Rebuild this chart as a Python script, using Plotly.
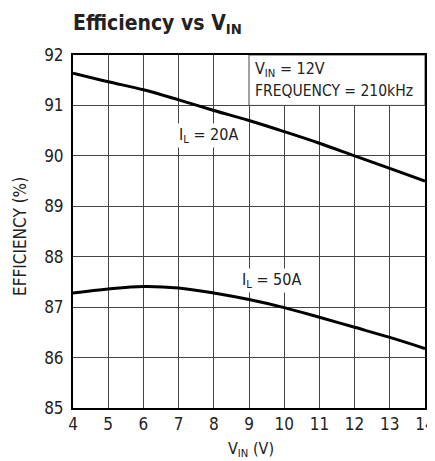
import plotly.graph_objects as go

vin = [4, 5, 6, 7, 8, 9, 10, 11, 12, 13, 14]
eff_20a = [91.64, 91.47, 91.31, 91.11, 90.90, 90.70, 90.48, 90.25, 90.00, 89.75, 89.50]
eff_50a = [87.28, 87.36, 87.41, 87.38, 87.28, 87.15, 86.99, 86.80, 86.60, 86.40, 86.18]
x_ticks = [4, 5, 6, 7, 8, 9, 10, 11, 12, 13, 14]
y_ticks = [85, 86, 87, 88, 89, 90, 91, 92]

FONT = "Liberation Sans Narrow, DejaVu Sans Condensed, Arial Narrow, sans-serif"
TXT = "#222"

# the page body has an 8px margin; compensate so the plot lands where the reference has it
OFF = 8
W, H = 435 - OFF, 461 - OFF
L, R, T = 73 - OFF, 10, 55 - OFF
B = H - (408 - OFF)
PW, PH = W - L - R, H - T - B

fig = go.Figure()
for ys in (eff_20a, eff_50a):
    fig.add_trace(go.Scatter(x=vin, y=ys, mode="lines", line=dict(color="black", width=3, shape="spline"),
                             showlegend=False, hoverinfo="skip"))

fig.add_shape(type="rect", xref="x", yref="y", x0=9, x1=14, y0=91, y1=92,
              fillcolor="white", line=dict(color="#444", width=1), layer="between")

fig.update_layout(
    width=W, height=H,
    margin=dict(l=L, r=R, t=T, b=B, pad=0, autoexpand=False),
    paper_bgcolor="white", plot_bgcolor="white",
    font=dict(family=FONT, color=TXT, size=17),
    showlegend=False,
)
fig.update_xaxes(range=[4, 14], tickvals=x_ticks, ticks="", ticklen=0, showgrid=True, gridcolor="#444", gridwidth=1,
                 showline=True, linecolor="black", linewidth=2, mirror=True, zeroline=False,
                 tickfont=dict(size=17), ticklabelstandoff=0, automargin=False)
fig.update_yaxes(range=[85, 92], tickvals=y_ticks, ticks="", ticklen=0, showgrid=True, gridcolor="#444", gridwidth=1,
                 showline=True, linecolor="black", linewidth=2, mirror=True, zeroline=False,
                 tickfont=dict(size=17), ticklabelstandoff=4, automargin=False)


def px(x, y):
    return (x - OFF - L) / PW, (H - B - (y - OFF)) / PH


ann = [
    dict(text="<b>Efficiency vs V<sub>IN</sub></b>", x=71, y=24, size=21, bg=None),
    dict(text="V<sub>IN</sub> (V)", x=251, y=449, size=16, center=True, bg=None),
    dict(text="I<sub>L</sub> = 20A", x=177, y=135, size=16, bg="white"),
    dict(text="I<sub>L</sub> = 50A", x=240, y=280, size=16, bg="white"),
    dict(text="V<sub>IN</sub> = 12V", x=253, y=70, size=16, bg=None),
    dict(text="FREQUENCY = 210kHz", x=253, y=91, size=15.5, bg=None),
]
for a in ann:
    ax, ay = px(a["x"], a["y"])
    fig.add_annotation(text=a["text"], xref="paper", yref="paper", x=ax, y=ay,
                       xanchor="center" if a.get("center") else "left", yanchor="middle",
                       showarrow=False, bgcolor=a["bg"], borderpad=1,
                       font=dict(size=a["size"], family=FONT, color=TXT))
ax, ay = px(20, 237)
fig.add_annotation(text="EFFICIENCY (%)", xref="paper", yref="paper", x=ax, y=ay,
                   xanchor="center", yanchor="middle", textangle=-90, showarrow=False,
                   font=dict(size=17, family=FONT, color=TXT))

fig.write_html("out.html")
